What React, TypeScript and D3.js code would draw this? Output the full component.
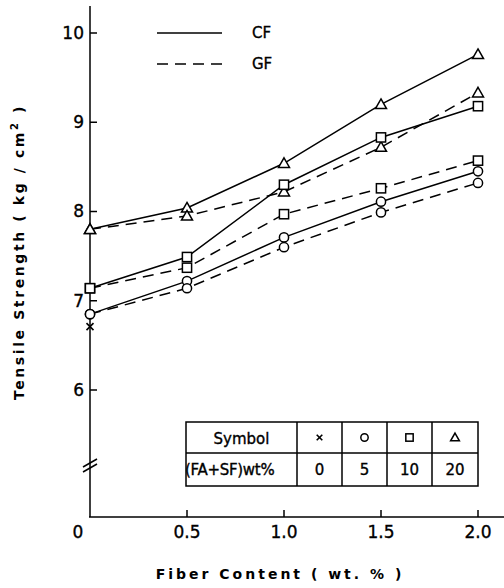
import React from 'react';
import * as d3 from 'd3';

const fiber = [0, 0.5, 1.0, 1.5, 2.0];
const xTicks = [0, 0.5, 1.0, 1.5, 2.0];
const xTickLabels = ['0', '0.5', '1.0', '1.5', '2.0'];
const yTicks = [6, 7, 8, 9, 10];

// CF = solid, GF = dashed
const cfTriangle = [7.8, 8.04, 8.54, 9.2, 9.76];
const gfTriangle = [7.8, 7.95, 8.22, 8.72, 9.33];
const cfSquare = [7.14, 7.49, 8.3, 8.83, 9.18];
const gfSquare = [7.14, 7.37, 7.97, 8.26, 8.57];
const cfCircle = [6.85, 7.22, 7.71, 8.11, 8.45];
const gfCircle = [6.85, 7.14, 7.6, 7.99, 8.32];
const plainValue = 6.71;

const symbolNames = ['cross', 'circle', 'square', 'triangle'];
const admixture = ['0', '5', '10', '20'];

const series = [
  { values: cfTriangle, shape: 'triangle', dashed: false },
  { values: gfTriangle, shape: 'triangle', dashed: true },
  { values: cfSquare, shape: 'square', dashed: false },
  { values: gfSquare, shape: 'square', dashed: true },
  { values: cfCircle, shape: 'circle', dashed: false },
  { values: gfCircle, shape: 'circle', dashed: true },
];

const font = '"DejaVu Sans", sans-serif';
// slightly heavier text, like the scanned print
const ink = { stroke: '#000', strokeWidth: 0.35 };

function Marker({ shape, x, y, s = 1 }: { shape: string; x: number; y: number; s?: number }) {
  const st = { fill: '#fff', stroke: '#000', strokeWidth: 1.5 };
  if (shape === 'circle') return <circle cx={x} cy={y} r={4.6 * s} {...st} />;
  if (shape === 'square') return <rect x={x - 4.6 * s} y={y - 4.6 * s} width={9.2 * s} height={9.2 * s} {...st} />;
  if (shape === 'triangle') {
    const h = 5.5 * s;
    return <path d={`M${x},${y - h}L${x + h},${y + h * 0.75}L${x - h},${y + h * 0.75}Z`} {...st} />;
  }
  const c = 3.5 * s;
  return <path d={`M${x - c},${y - c}L${x + c},${y + c}M${x + c},${y - c}L${x - c},${y + c}`} stroke="#000" strokeWidth={1.6} />;
}

export default function App() {
  const x = d3.scaleLinear().domain([0, 2]).range([90, 478]);
  const y = d3.scaleLinear().domain([6, 10]).range([390, 33]);
  const axisY = 517;
  const line = d3.line<number>().x((_, i) => x(fiber[i])).y((d) => y(d));

  const tableLeft = 186;
  const cols = [297, 342, 387, 432, 478];
  const rows = [422, 453, 486];

  return (
    <svg width={504} height={588} style={{ position: 'absolute', left: 0, top: 0, background: '#fff' }}
      fontFamily={font}>
      {/* axes */}
      <line x1={90} y1={6} x2={90} y2={axisY} stroke="#000" strokeWidth={1.5} />
      <line x1={89} y1={axisY} x2={504} y2={axisY} stroke="#000" strokeWidth={1.5} />
      <line x1={83} y1={467} x2={97} y2={459} stroke="#000" strokeWidth={1.5} />
      <line x1={83} y1={472} x2={97} y2={464} stroke="#000" strokeWidth={1.5} />
      {yTicks.map((t) => (
        <g key={t}>
          <line x1={90} x2={97} y1={y(t)} y2={y(t)} stroke="#000" strokeWidth={1.5} />
          <text x={84} y={y(t)} dy="0.35em" textAnchor="end" fontSize={17} {...ink}>{t}</text>
        </g>
      ))}
      {xTicks.map((t, i) => (
        <g key={t}>
          {i > 0 && <line x1={x(t)} x2={x(t)} y1={axisY} y2={axisY - 7} stroke="#000" strokeWidth={1.5} />}
          <text x={i === 0 ? x(t) - 12 : x(t)} y={532} dy="0.35em" textAnchor="middle" fontSize={17} {...ink}>
            {xTickLabels[i]}
          </text>
        </g>
      ))}
      <text x={280} y={574} dy="0.35em" textAnchor="middle" fontSize={14} fontWeight="bold" letterSpacing={3}>
        Fiber  Content  ( wt. % )
      </text>
      <text transform="translate(19,252) rotate(-90)" dy="0.35em" textAnchor="middle" fontSize={14}
        fontWeight="bold" letterSpacing={2.6}>
        Tensile  Strength  ( kg / cm<tspan dy="-6" fontSize={10}>2</tspan><tspan dy="6"> )</tspan>
      </text>

      {/* legend */}
      <line x1={157} x2={222} y1={33} y2={33} stroke="#000" strokeWidth={1.5} />
      <text x={252} y={33} dy="0.35em" fontSize={15} {...ink}>CF</text>
      <line x1={157} x2={222} y1={64} y2={64} stroke="#000" strokeWidth={1.5} strokeDasharray="11,7" />
      <text x={252} y={64} dy="0.35em" fontSize={15} {...ink}>GF</text>

      {/* series */}
      {series.map((s, i) => (
        <path key={i} d={line(s.values) || ''} fill="none" stroke="#000" strokeWidth={1.5}
          strokeDasharray={s.dashed ? '11,7' : undefined} />
      ))}
      {series.map((s, i) =>
        s.values.map((v, j) => <Marker key={`${i}-${j}`} shape={s.shape} x={x(fiber[j])} y={y(v)} />)
      )}
      <Marker shape="cross" x={x(0)} y={y(plainValue)} />

      {/* symbol table */}
      <rect x={tableLeft} y={rows[0]} width={cols[4] - tableLeft} height={rows[2] - rows[0]} fill="#fff"
        stroke="#000" strokeWidth={1.5} />
      <line x1={tableLeft} x2={cols[4]} y1={rows[1]} y2={rows[1]} stroke="#000" strokeWidth={1.5} />
      {cols.slice(0, 4).map((c) => (
        <line key={c} x1={c} x2={c} y1={rows[0]} y2={rows[2]} stroke="#000" strokeWidth={1.5} />
      ))}
      <text x={(tableLeft + cols[0]) / 2} y={(rows[0] + rows[1]) / 2 + 1} dy="0.35em" textAnchor="middle"
        fontSize={15} {...ink}>Symbol</text>
      <text x={tableLeft - 1} y={(rows[1] + rows[2]) / 2} dy="0.35em" fontSize={15} letterSpacing={-0.3} {...ink}>
        (FA+SF)wt%
      </text>
      {symbolNames.map((s, i) => (
        <g key={s}>
          <Marker shape={s} x={(cols[i] + cols[i + 1]) / 2} y={(rows[0] + rows[1]) / 2} s={0.8} />
          <text x={(cols[i] + cols[i + 1]) / 2} y={(rows[1] + rows[2]) / 2} dy="0.35em" textAnchor="middle"
            fontSize={15} {...ink}>{admixture[i]}</text>
        </g>
      ))}
    </svg>
  );
}
